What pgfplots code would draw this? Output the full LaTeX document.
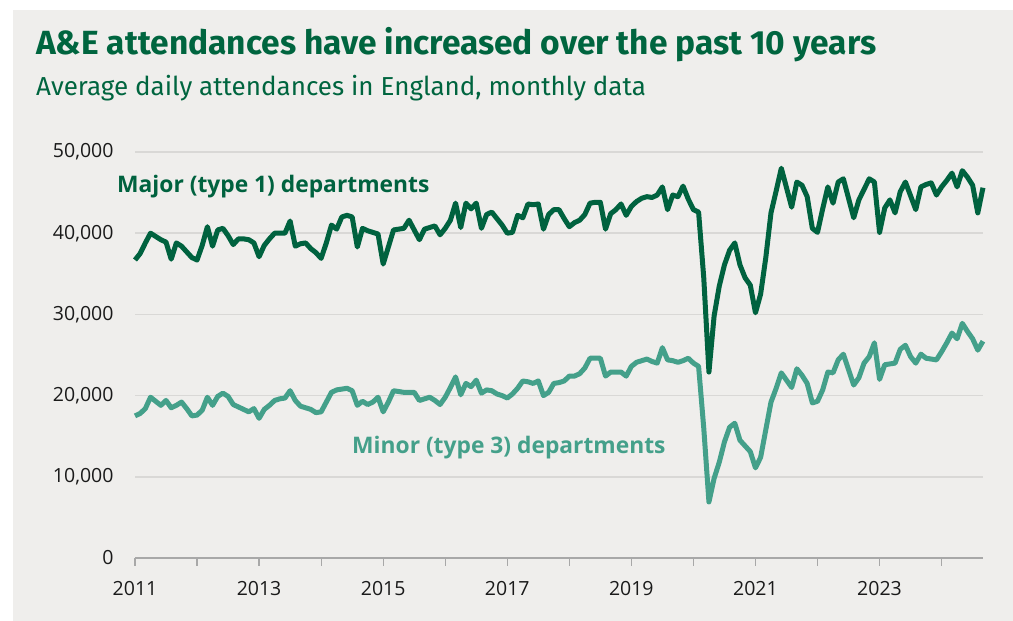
\documentclass[border=0pt]{standalone}
\usepackage{fontspec}
\setmainfont{Open Sans}
\newfontfamily\titlefont{Fira Sans}
\usepackage{pgfplots}
\usepackage{pgfplotstable}
\pgfplotsset{compat=1.18}
\definecolor{bg}{HTML}{EFEEEC}
\definecolor{majorc}{HTML}{00623F}
\definecolor{minorc}{HTML}{44A08A}
\definecolor{gridc}{HTML}{D9D8D6}
\definecolor{axisc}{HTML}{A8A8A8}
\definecolor{titlec}{HTML}{00653F}
\definecolor{tickc}{HTML}{1A1A1A}

\pgfplotstableread{
m major minor
0 36.7 17.5
1 37.5 17.8
2 38.8 18.4
3 40.0 19.8
4 39.6 19.3
5 39.2 18.8
6 38.9 19.4
7 36.8 18.5
8 38.8 18.8
9 38.4 19.2
10 37.7 18.4
11 37.0 17.5
12 36.7 17.6
13 38.5 18.2
14 40.8 19.8
15 38.4 18.8
16 40.4 19.9
17 40.6 20.3
18 39.7 19.9
19 38.6 18.9
20 39.3 18.6
21 39.3 18.3
22 39.2 18.0
23 38.8 18.4
24 37.1 17.2
25 38.5 18.3
26 39.3 18.8
27 40.0 19.4
28 40.0 19.6
29 40.0 19.7
30 41.5 20.6
31 38.4 19.4
32 38.7 18.7
33 38.8 18.5
34 38.1 18.3
35 37.6 17.9
36 36.9 18.0
37 38.8 19.2
38 41.0 20.4
39 40.5 20.7
40 42.0 20.8
41 42.2 20.9
42 42.0 20.6
43 38.3 18.8
44 40.6 19.3
45 40.3 18.9
46 40.1 19.2
47 39.9 19.8
48 36.2 18.0
49 38.3 19.2
50 40.4 20.6
51 40.5 20.5
52 40.6 20.4
53 41.6 20.4
54 40.4 20.4
55 39.2 19.4
56 40.5 19.6
57 40.7 19.8
58 40.9 19.4
59 39.8 18.9
60 40.6 19.8
61 41.6 21.0
62 43.7 22.3
63 40.7 20.1
64 43.7 21.5
65 43.0 21.1
66 43.7 21.9
67 40.6 20.3
68 42.3 20.7
69 42.6 20.6
70 41.8 20.2
71 41.0 20.0
72 40.0 19.7
73 40.1 20.2
74 42.2 20.9
75 41.9 21.8
76 43.6 21.7
77 43.5 21.5
78 43.6 21.8
79 40.5 20.0
80 42.3 20.4
81 42.9 21.5
82 42.9 21.6
83 41.8 21.8
84 40.8 22.4
85 41.3 22.4
86 41.6 22.7
87 42.3 23.4
88 43.7 24.6
89 43.8 24.6
90 43.8 24.6
91 40.5 22.4
92 42.4 22.9
93 42.9 22.9
94 43.6 22.9
95 42.2 22.4
96 43.3 23.6
97 43.9 24.1
98 44.3 24.3
99 44.5 24.5
100 44.4 24.2
101 44.7 24.0
102 45.7 25.9
103 42.9 24.4
104 44.7 24.3
105 44.5 24.1
106 45.8 24.3
107 44.2 24.6
108 42.9 24.0
109 42.6 23.6
110 34.5 16.0
111 22.9 6.9
112 29.8 9.8
113 33.5 11.8
114 36.1 14.3
115 37.9 16.1
116 38.8 16.6
117 36.1 14.5
118 34.5 13.8
119 33.6 13.1
120 30.2 11.1
121 32.5 12.4
122 37.0 15.8
123 42.5 19.2
124 45.2 20.9
125 48.0 22.8
126 45.6 21.9
127 43.2 21.0
128 46.3 23.3
129 45.9 22.5
130 44.5 21.5
131 40.6 19.1
132 40.1 19.3
133 43.0 20.7
134 45.7 22.9
135 43.7 22.8
136 46.3 24.4
137 46.7 25.1
138 44.3 23.2
139 41.9 21.3
140 44.1 22.2
141 45.4 24.0
142 46.7 24.8
143 46.3 26.5
144 40.1 22.0
145 43.1 23.8
146 44.1 23.9
147 42.5 24.0
148 45.1 25.7
149 46.3 26.2
150 44.6 24.8
151 42.9 24.0
152 45.7 25.1
153 46.0 24.6
154 46.2 24.5
155 44.7 24.4
156 45.7 25.4
157 46.5 26.5
158 47.4 27.7
159 45.7 27.0
160 47.7 28.9
161 46.9 27.9
162 45.9 27.0
163 42.5 25.6
164 45.6 26.7
}\data

\begin{document}
\begin{tikzpicture}[x=1pt,y=1pt]
\fill[white] (0pt,0pt) rectangle (1013pt,621pt);
\fill[bg] (13pt,0pt) rectangle (1013pt,611pt);
\node[anchor=base west, inner sep=0, text=titlec, font=\titlefont\bfseries\fontsize{33.5}{38}\selectfont] at (36pt,566pt) {A\&E attendances have increased over the past 10 years};
\node[anchor=base west, inner sep=0, text=titlec, font=\titlefont\fontsize{26}{30}\selectfont] at (36pt,525pt) {Average daily attendances in England, monthly data};
\begin{axis}[
  at={(135pt,63pt)}, anchor=south west,
  scale only axis, width=848pt, height=406pt,
  xmin=2011, xmax=2024.667, ymin=0, ymax=50000,
  axis x line*=bottom, axis y line*=left,
  y axis line style={draw=none},
  x axis line style={color=axisc, line width=1.5pt, -},
  xtick={2011,...,2024},
  xticklabels={2011,,2013,,2015,,2017,,2019,,2021,,2023,},
  ytick={0,10000,...,50000},
  ymajorgrids, grid style={color=gridc, line width=1.5pt},
  tick align=outside, major tick length=8pt,
  x tick style={color=axisc, line width=1.2pt},
  y tick style={draw=none},
  scaled y ticks=false,
  /pgf/number format/assume math mode=true,
  yticklabel style={/pgf/number format/fixed, /pgf/number format/1000 sep={,}, xshift=-10pt},
  xticklabel style={yshift=-12pt},
  ticklabel style={font=\fontsize{19.5}{23}\selectfont, text=tickc},
  clip=false,
]
\addplot[color=majorc, line width=5pt, line join=round] table[x expr={2011+\thisrow{m}/12}, y expr={\thisrow{major}*1000}] {\data};
\addplot[color=minorc, line width=5pt, line join=round] table[x expr={2011+\thisrow{m}/12}, y expr={\thisrow{minor}*1000}] {\data};
\end{axis}
\node[anchor=base west, inner sep=0, text=majorc, font=\bfseries\fontsize{22.8}{26}\selectfont] at (117pt,428pt) {Major (type 1) departments};
\node[anchor=base west, inner sep=0, text=minorc, font=\bfseries\fontsize{22.8}{26}\selectfont] at (352pt,167pt) {Minor (type 3) departments};
\end{tikzpicture}
\end{document}
